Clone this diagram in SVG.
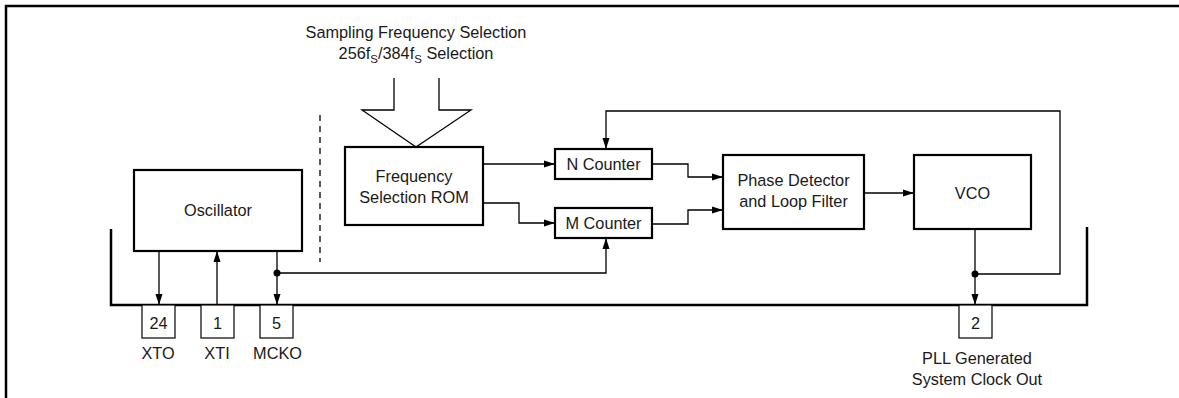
<svg xmlns="http://www.w3.org/2000/svg" width="1179" height="398" viewBox="0 0 1179 398">
<defs>
<style>
.box{fill:#fff;stroke:#000;stroke-width:2.2}
.pin{fill:#fff;stroke:#000;stroke-width:1.2}
.ln{fill:none;stroke:#000;stroke-width:1.3}
.thick{fill:none;stroke:#000;stroke-width:2.5}
.t{font-family:"Liberation Sans",Arial,sans-serif;font-size:16.3px;fill:#1a1a1a;text-anchor:middle}
.dot{fill:#000}
</style>
<marker id="ah" markerUnits="userSpaceOnUse" markerWidth="12" markerHeight="8" refX="11" refY="4" orient="auto">
<path d="M0,0.5 L11,4 L0,7.5 z" fill="#000"/>
</marker>
</defs>
<rect width="1179" height="398" fill="#fff"/>
<g id="frame">
<path class="thick" d="M6,398 V6 H1179"/>
<path class="thick" d="M111,229 V305 H1087 V227"/>
<path d="M320,115 V262" fill="none" stroke="#000" stroke-width="1.3" stroke-dasharray="6,5"/>
</g>
<g id="title">
<text class="t" x="416" y="38">Sampling Frequency Selection</text>
<text class="t" x="416" y="59">256f<tspan font-size="11.5" dy="4">S</tspan><tspan dy="-4">/384f</tspan><tspan font-size="11.5" dy="4">S</tspan><tspan dy="-4"> Selection</tspan></text>
</g>
<g id="connectors">
<polyline class="ln" points="394,78 394,110 362,110 416,147 471,110 439,110 439,78"/>
<path class="ln" d="M483,164 H555" marker-end="url(#ah)"/>
<path class="ln" d="M483,203 H519 V223 H555" marker-end="url(#ah)"/>
<path class="ln" d="M652,164 H688 V177 H723" marker-end="url(#ah)"/>
<path class="ln" d="M652,224 H688 V210 H723" marker-end="url(#ah)"/>
<path class="ln" d="M865,193 H914" marker-end="url(#ah)"/>
<path class="ln" d="M975,229 V305" marker-end="url(#ah)"/>
<path class="ln" d="M975,274 H1060 V111 H606 V149" marker-end="url(#ah)"/>
<path class="ln" d="M159,251 V305" marker-end="url(#ah)"/>
<path class="ln" d="M217,305 V251" marker-end="url(#ah)"/>
<path class="ln" d="M277,251 V305" marker-end="url(#ah)"/>
<path class="ln" d="M277,273 H606 V238" marker-end="url(#ah)"/>
<circle class="dot" cx="277" cy="273" r="3.5"/>
<circle class="dot" cx="975" cy="274" r="3.5"/>
</g>
<g id="oscillator">
<rect class="box" x="134" y="170" width="168" height="81"/>
<text class="t" x="218" y="215.5">Oscillator</text>
</g>
<g id="rom">
<rect class="box" x="345" y="147" width="138" height="78"/>
<text class="t" x="414" y="181.5">Frequency</text>
<text class="t" x="414" y="202.5">Selection ROM</text>
</g>
<g id="ncounter">
<rect class="box" x="555" y="149" width="97" height="30"/>
<text class="t" x="603.5" y="170">N Counter</text>
</g>
<g id="mcounter">
<rect class="box" x="555" y="208" width="97" height="30"/>
<text class="t" x="603.5" y="229">M Counter</text>
</g>
<g id="pd">
<rect class="box" x="723" y="155" width="141" height="74"/>
<text class="t" x="793.5" y="186">Phase Detector</text>
<text class="t" x="793.5" y="206.5">and Loop Filter</text>
</g>
<g id="vco">
<rect class="box" x="914" y="155" width="117" height="74"/>
<text class="t" x="972.5" y="199">VCO</text>
</g>
<g id="pin24">
<rect class="pin" x="142" y="305" width="33" height="33"/>
<text class="t" x="158.5" y="328.5">24</text>
<text class="t" x="158" y="358.5">XTO</text>
</g>
<g id="pin1">
<rect class="pin" x="201" y="305" width="33" height="33"/>
<text class="t" x="217.5" y="328.5">1</text>
<text class="t" x="217" y="358.5">XTI</text>
</g>
<g id="pin5">
<rect class="pin" x="260" y="305" width="33" height="33"/>
<text class="t" x="276.5" y="328.5">5</text>
<text class="t" x="277.5" y="358.5">MCKO</text>
</g>
<g id="pin2">
<rect class="pin" x="959" y="305" width="33" height="33"/>
<text class="t" x="975.5" y="328.5">2</text>
<text class="t" x="977" y="364">PLL Generated</text>
<text class="t" x="977" y="385">System Clock Out</text>
</g>
</svg>
